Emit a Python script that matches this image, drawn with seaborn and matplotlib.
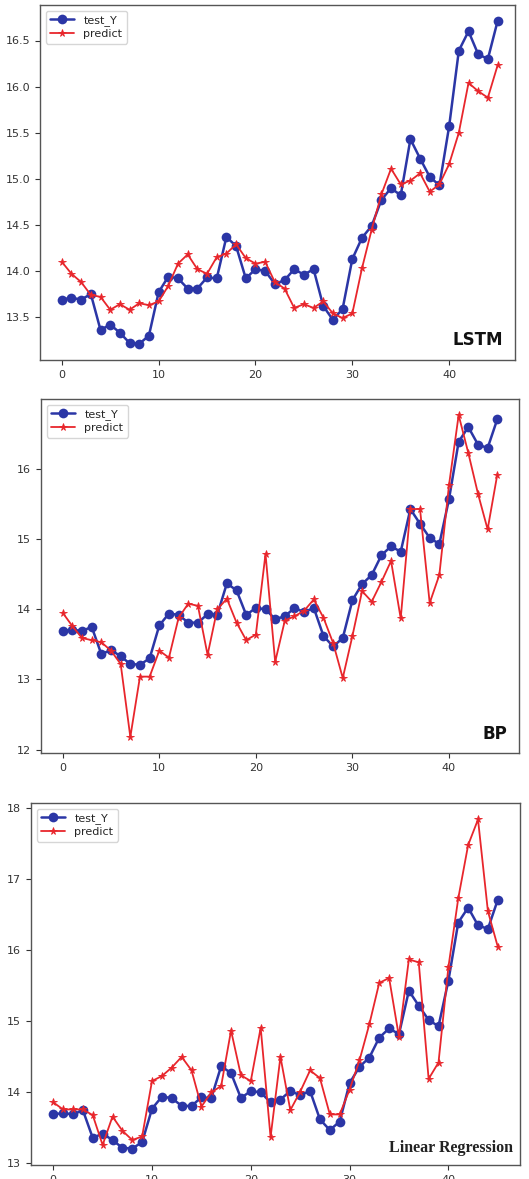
import numpy as np
import pandas as pd
import matplotlib
matplotlib.use("Agg")
import matplotlib.pyplot as plt
import seaborn as sns

# actual values (same in all three panels)
test_y = [13.69, 13.71, 13.69, 13.75, 13.36, 13.42, 13.33, 13.22, 13.21, 13.30,
          13.77, 13.94, 13.92, 13.81, 13.81, 13.93, 13.92, 14.37, 14.27, 13.92,
          14.02, 14.00, 13.86, 13.90, 14.02, 13.96, 14.02, 13.62, 13.47, 13.59,
          14.13, 14.36, 14.49, 14.77, 14.90, 14.82, 15.43, 15.22, 15.02, 14.93,
          15.57, 16.39, 16.60, 16.35, 16.30, 16.71]

lstm_pred = [14.10, 13.97, 13.88, 13.74, 13.72, 13.58, 13.64, 13.58, 13.65, 13.63,
             13.67, 13.84, 14.08, 14.18, 14.02, 13.97, 14.15, 14.19, 14.29, 14.14,
             14.08, 14.10, 13.88, 13.81, 13.60, 13.64, 13.60, 13.67, 13.54, 13.49,
             13.54, 14.03, 14.45, 14.83, 15.11, 14.94, 14.98, 15.06, 14.86, 14.94,
             15.16, 15.50, 16.04, 15.95, 15.88, 16.23]

bp_pred = [13.95, 13.76, 13.59, 13.56, 13.53, 13.41, 13.22, 12.18, 13.04, 13.04,
           13.41, 13.31, 13.88, 14.08, 14.05, 13.35, 14.00, 14.15, 13.81, 13.56,
           13.64, 14.79, 13.25, 13.84, 13.90, 13.98, 14.14, 13.88, 13.52, 13.02,
           13.62, 14.26, 14.11, 14.39, 14.69, 13.87, 15.43, 15.43, 14.09, 14.49,
           15.77, 16.77, 16.23, 15.65, 15.14, 15.92]

lr_pred = [13.86, 13.76, 13.76, 13.76, 13.68, 13.26, 13.66, 13.46, 13.33, 13.38,
           14.16, 14.23, 14.35, 14.50, 14.31, 13.80, 14.00, 14.09, 14.87, 14.24,
           14.16, 14.91, 13.37, 14.50, 13.75, 14.01, 14.31, 14.20, 13.69, 13.69,
           14.04, 14.45, 14.96, 15.54, 15.61, 14.78, 15.87, 15.83, 14.19, 14.42,
           15.76, 16.73, 17.48, 17.84, 16.55, 16.05]

model_names = ["LSTM", "BP", "Linear Regression"]
y_ticks = [[13.5, 14.0, 14.5, 15.0, 15.5, 16.0, 16.5],
           [12, 13, 14, 15, 16, 17],
           [13, 14, 15, 16, 17, 18]]
x_ticks = [0, 10, 20, 30, 40]

sns.set_style("white")
plt.rcParams['font.family'] = ['DejaVu Sans']

BLUE = "#2b36a6"
RED = "#e8262c"

fig = plt.figure(figsize=(5.29, 11.79), dpi=100)
W, H = 529.0, 1179.0
# pixel frames: left, top, right, bottom
frames = [(40, 5, 515, 360), (41, 399, 519, 753), (31, 803, 520, 1165)]
preds = [lstm_pred, bp_pred, lr_pred]

for i, (name, pred) in enumerate(zip(model_names, preds)):
    l, t, r, b = frames[i]
    ax = fig.add_axes([l / W, 1 - b / H, (r - l) / W, (b - t) / H])
    df = pd.DataFrame({"x": np.arange(len(test_y)), "test_Y": test_y, "predict": pred})
    sns.lineplot(data=df, x="x", y="test_Y", ax=ax, color=BLUE, marker="o",
                 markersize=7, markeredgewidth=0, linewidth=1.8, label="test_Y")
    sns.lineplot(data=df, x="x", y="predict", ax=ax, color=RED, marker="*",
                 markersize=5.5, markeredgewidth=0.6, markeredgecolor=RED,
                 linewidth=1.3, label="predict")
    ax.set_xlabel("")
    ax.set_ylabel("")
    ax.set_xticks(x_ticks)
    ax.set_yticks(y_ticks[i])
    if i == 0:
        ax.set_xlim(-2.25, 46.8)
        ax.set_yticklabels([f"{v:.1f}" for v in y_ticks[i]])
    else:
        ax.set_xlim(-2.25, 47.25)
        ax.set_yticklabels([f"{v:d}" for v in y_ticks[i]])
    ax.margins(y=0.05)
    ax.tick_params(axis="both", labelsize=8, colors="#333333", length=3.5,
                   direction="out", bottom=True, left=True)
    for s in ax.spines.values():
        s.set_color("#555555")
        s.set_linewidth(1.0)
    leg = ax.legend(loc="upper left", fontsize=8, frameon=True, handlelength=2.2,
                    borderpad=0.4, labelspacing=0.3)
    leg.get_frame().set_edgecolor("#cccccc")
    if name == "Linear Regression":
        ax.text(0.985, 0.048, name, transform=ax.transAxes, ha="right", va="center",
                fontsize=11.5, fontweight="bold", family="Liberation Serif", color="#222222")
    else:
        ax.text(0.975, 0.055, name, transform=ax.transAxes, ha="right", va="center",
                fontsize=12, fontweight="bold", color="#111111")

fig.savefig("out.png", dpi=100)
